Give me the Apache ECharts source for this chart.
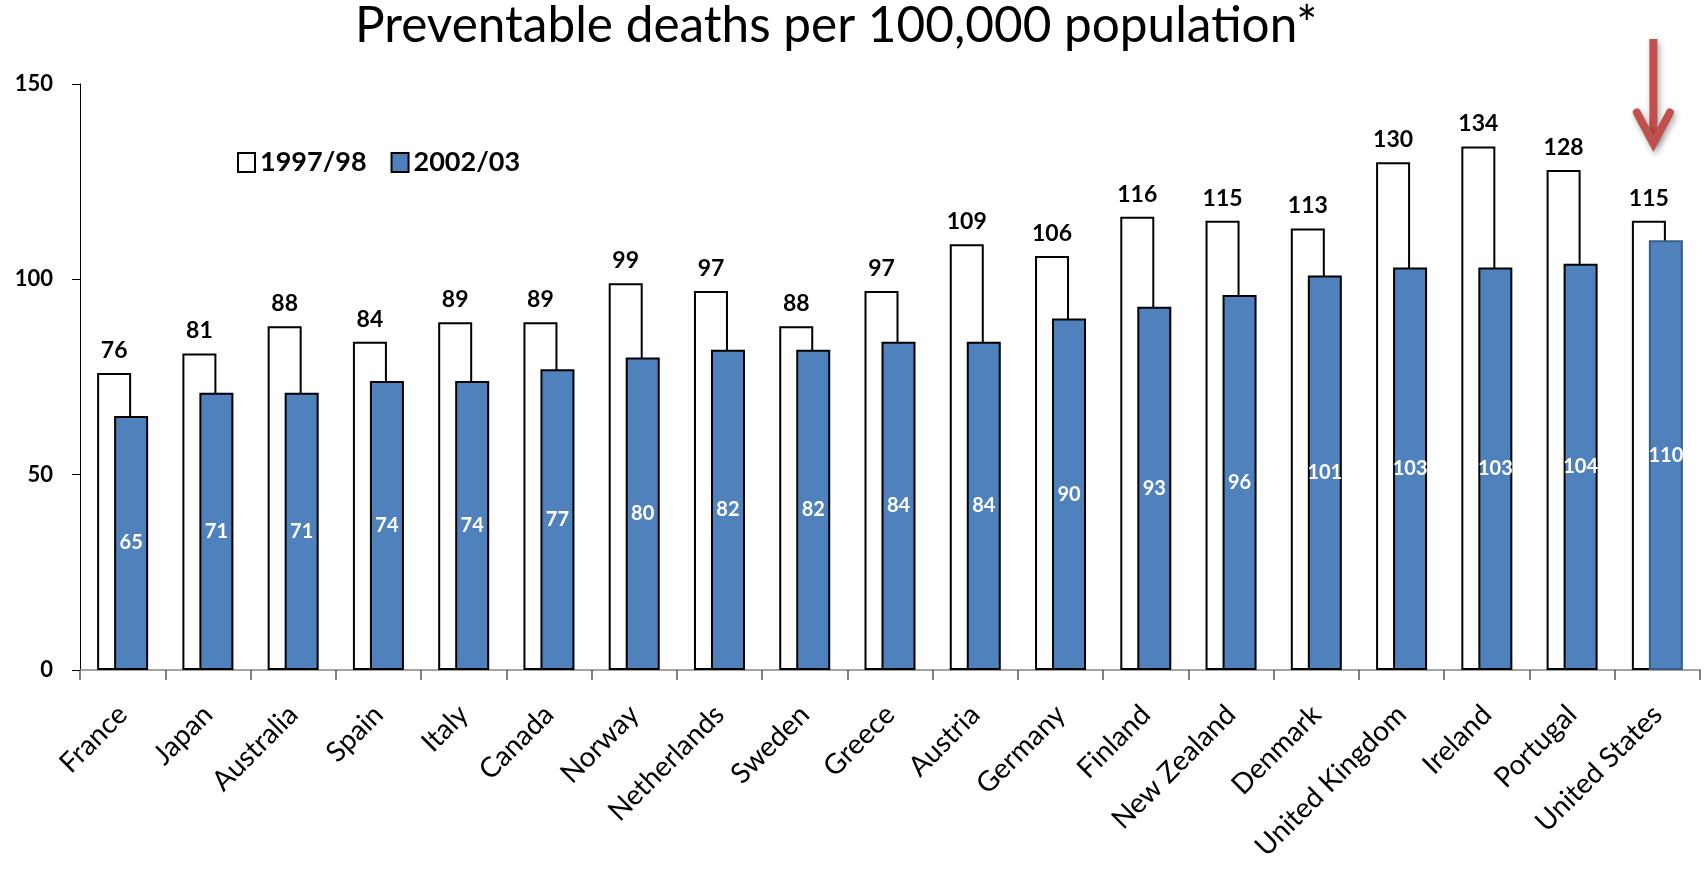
<!DOCTYPE html>
<html>
<head>
<meta charset="utf-8">
<script src="https://cdn.jsdelivr.net/npm/echarts@6/dist/echarts.min.js"></script>
<style>
  html, body { margin: 0; padding: 0; background: #fff; }
  #chart { width: 1706px; height: 884px; }
</style>
</head>
<body>
<div id="chart"></div>
<script>
// Countries, ordered by 2002/03 rate
const countries = ['France', 'Japan', 'Australia', 'Spain', 'Italy', 'Canada', 'Norway',
  'Netherlands', 'Sweden', 'Greece', 'Austria', 'Germany', 'Finland', 'New Zealand',
  'Denmark', 'United Kingdom', 'Ireland', 'Portugal', 'United States'];

// Deaths per 100,000 population
const rate1997 = [76, 81, 88, 84, 89, 89, 99, 97, 88, 97, 109, 106, 116, 115, 113, 130, 134, 128, 115];
const rate2002 = [65, 71, 71, 74, 74, 77, 80, 82, 82, 84, 84, 90, 93, 96, 101, 103, 103, 104, 110];

const seriesNames = ['1997/98', '2002/03'];
const yTicks = { min: 0, max: 150, step: 50 };

// Highlighted country and the span (in axis units) of the pointer arrow above it
const highlight = 'United States';
const arrowSpan = [161.5, 134.5];

const FONT = 'Lato';
const BLUE = '#4F81BD';

const chart = echarts.init(document.getElementById('chart'), null, { renderer: 'canvas' });

const option = {
  animation: false,
  backgroundColor: '#ffffff',
  title: {
    text: 'Preventable deaths per 100,000 population*',
    left: 355,
    top: 1,
    padding: 0,
    textStyle: { fontFamily: FONT, fontSize: 49.5, fontWeight: 'normal', color: '#000' }
  },
  legend: {
    data: seriesNames,
    left: 232,
    top: 144,
    itemWidth: 17,
    itemHeight: 19,
    itemGap: 24,
    icon: 'rect',
    textStyle: { fontFamily: FONT, fontSize: 27, fontWeight: 'bold', color: '#000' }
  },
  grid: { left: 80, right: 6, top: 84, bottom: 214, containLabel: false },
  xAxis: {
    type: 'category',
    data: countries,
    axisLine: { show: true, lineStyle: { color: '#868686', width: 1.5 } },
    axisTick: { show: true, length: 10, lineStyle: { color: '#555', width: 1.5 } },
    axisLabel: {
      rotate: 45,
      interval: 0,
      margin: 40,
      fontFamily: FONT,
      fontSize: 28,
      color: '#000'
    }
  },
  yAxis: {
    type: 'value',
    min: yTicks.min,
    max: yTicks.max,
    interval: yTicks.step,
    splitLine: { show: false },
    axisLine: { show: true, lineStyle: { color: '#000', width: 1 } },
    axisTick: { show: true, length: 8, lineStyle: { color: '#000', width: 1 } },
    axisLabel: { margin: 27, fontFamily: FONT, fontSize: 22, fontWeight: 'bold', color: '#000' }
  },
  series: [
    {
      name: seriesNames[0],
      type: 'bar',
      data: rate1997,
      barWidth: 34,
      barGap: '-50%',
      itemStyle: { color: '#ffffff', borderColor: '#000', borderWidth: 2 },
      label: {
        show: true,
        position: 'top',
        distance: 11,
        fontFamily: FONT,
        fontSize: 23,
        fontWeight: 'bold',
        color: '#000'
      }
    },
    {
      name: seriesNames[1],
      type: 'bar',
      data: rate2002.map((v, i) => countries[i] === highlight
        ? { value: v, itemStyle: { borderColor: '#385D8A' } }
        : v),
      barWidth: 34,
      itemStyle: { color: BLUE, borderColor: '#000', borderWidth: 2 },
      label: {
        show: true,
        position: 'inside',
        fontFamily: FONT,
        fontSize: 20,
        fontWeight: 'bold',
        color: '#fff'
      }
    }
  ]
};

chart.setOption(option);

// Red pointer arrow over the highlighted country, placed through the axes
const arrowStart = chart.convertToPixel({ xAxisIndex: 0, yAxisIndex: 0 }, [highlight, arrowSpan[0]]);
const arrowTip = chart.convertToPixel({ xAxisIndex: 0, yAxisIndex: 0 }, [highlight, arrowSpan[1]]);
const ax = arrowStart[0] - 4;
const arrowStyle = {
  stroke: '#C0504D',
  lineWidth: 8,
  fill: null,
  shadowBlur: 6,
  shadowOffsetX: 2,
  shadowOffsetY: 3,
  shadowColor: 'rgba(0,0,0,0.35)'
};
chart.setOption({
  graphic: [
    {
      type: 'line',
      shape: { x1: ax, y1: arrowStart[1], x2: ax, y2: arrowTip[1] - 5 },
      style: Object.assign({ lineCap: 'butt' }, arrowStyle),
      z: 100
    },
    {
      type: 'polyline',
      shape: { points: [[ax - 16.5, arrowTip[1] - 32], [ax, arrowTip[1] - 1], [ax + 16.5, arrowTip[1] - 32]] },
      style: Object.assign({ lineCap: 'round', lineJoin: 'miter' }, arrowStyle),
      z: 100
    }
  ]
});
</script>
</body>
</html>
